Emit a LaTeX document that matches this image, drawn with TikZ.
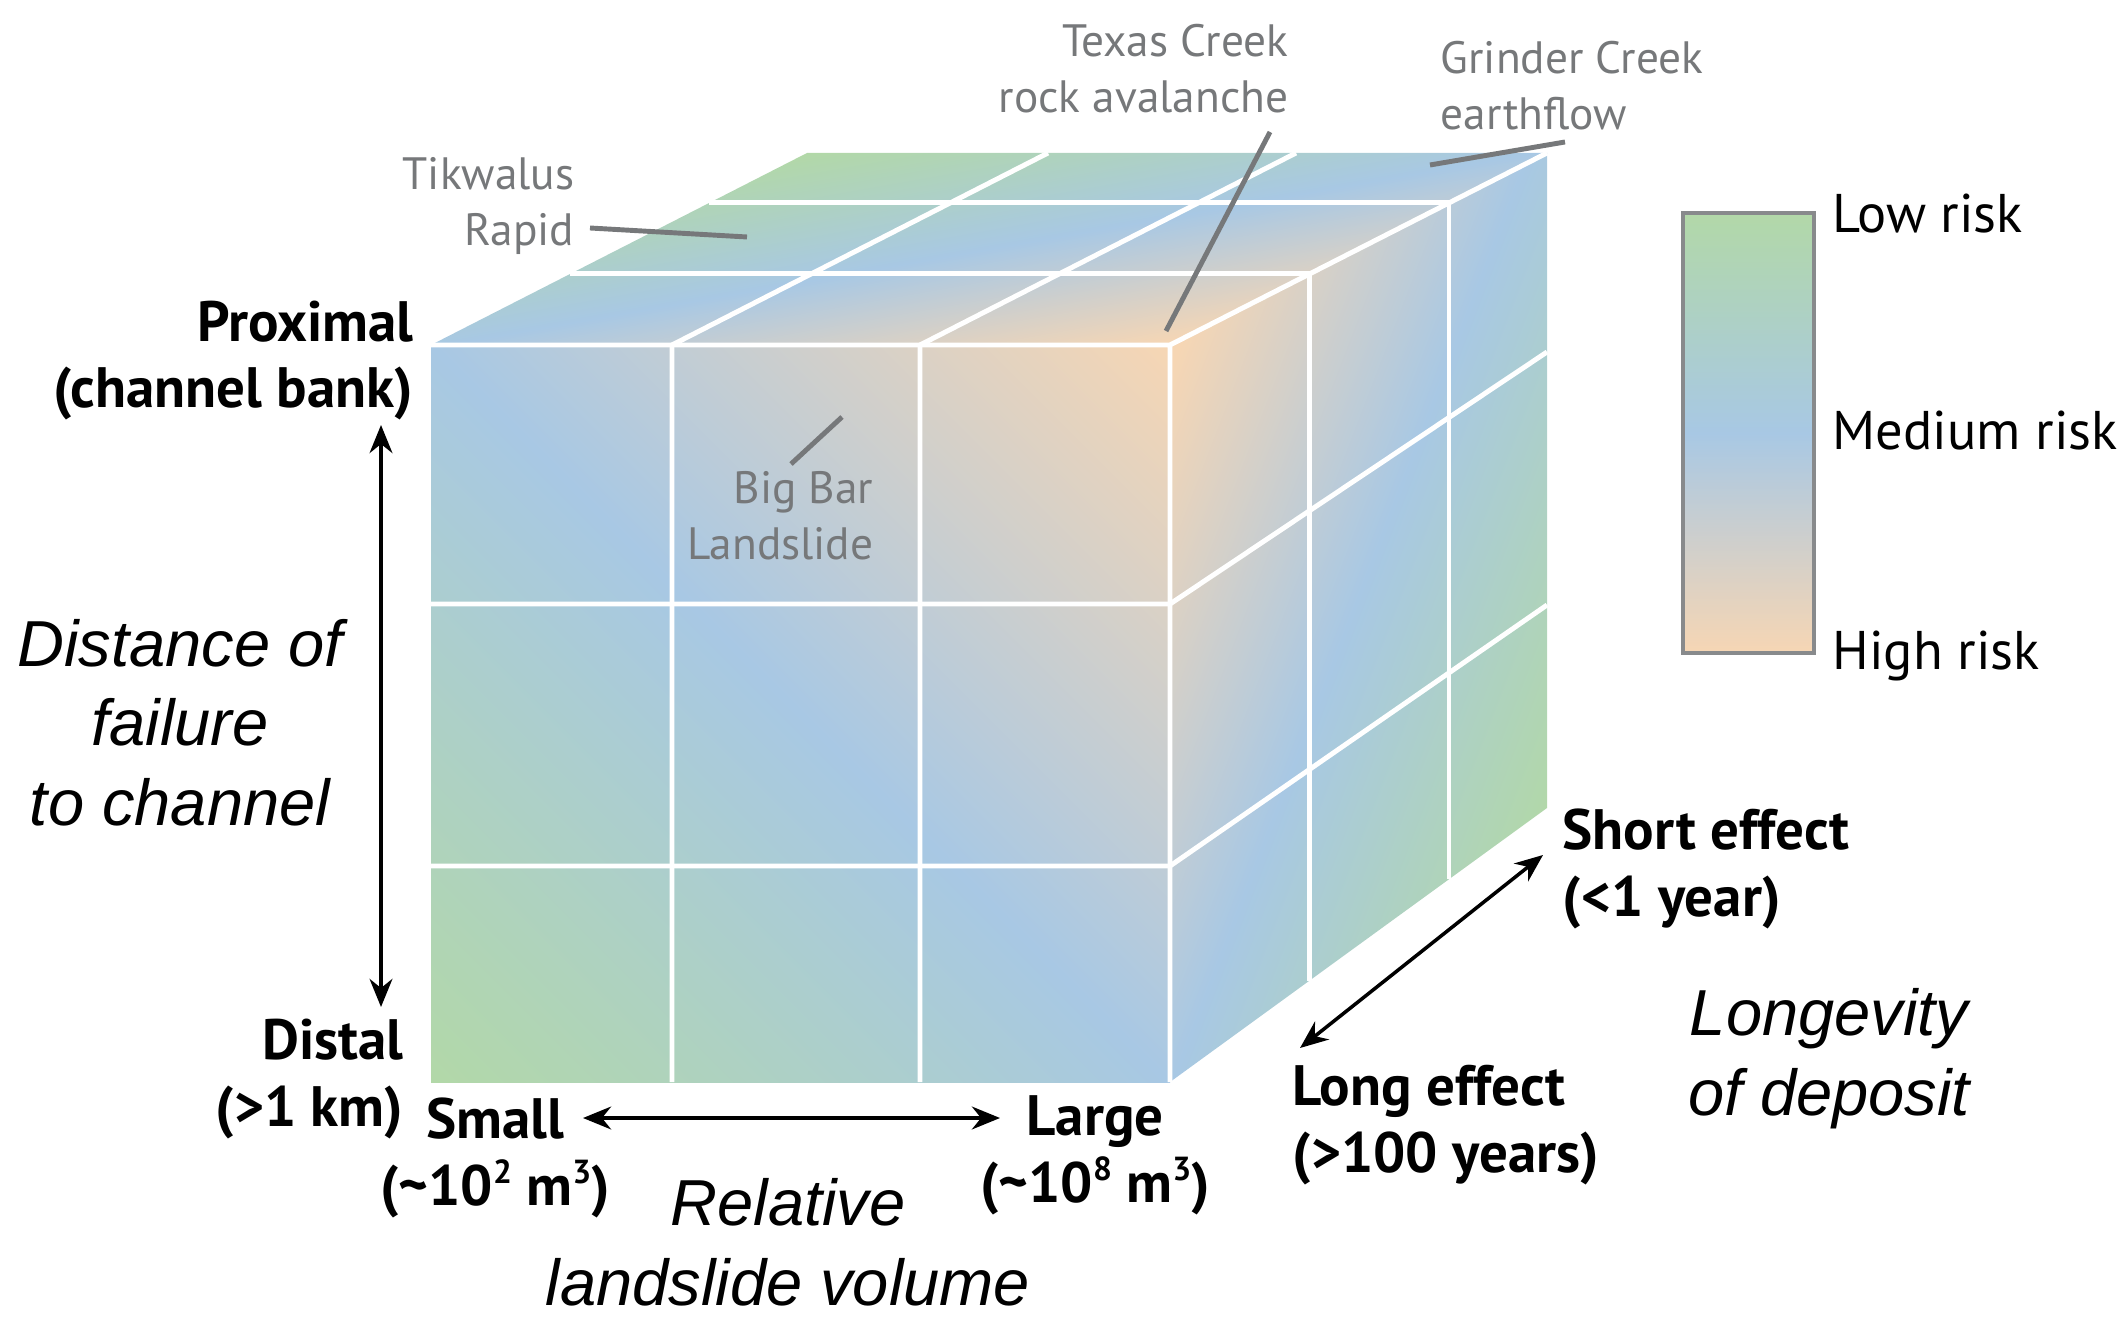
\documentclass[tikz,border=0pt]{standalone}
\usepackage{fontspec}
\setmainfont{PT Sans}
\newfontfamily\axisfont{Liberation Sans}
\usetikzlibrary{arrows.meta,calc}

\definecolor{riskLow}{RGB}{178,216,168}
\definecolor{riskMid}{RGB}{168,200,228}
\definecolor{riskHigh}{RGB}{246,214,180}
\definecolor{noteGray}{RGB}{118,120,122}
\definecolor{frameGray}{RGB}{136,138,140}

\def\riskramp#1#2#3{
  % 1: shading name
  % 2: where the ramp leaves low risk (bp)
  % 3: where the ramp reaches high risk (bp)
  \pgfdeclareverticalshading{#1}{100bp}{color(0bp)=(riskLow); color(#2bp)=(riskLow);
    color(50bp)=(riskMid); color(#3bp)=(riskHigh); color(100bp)=(riskHigh)}
}
\riskramp{frontramp}{25}{75}
\riskramp{sideramp}{36.8}{63.2}
\riskramp{topramp}{44.4}{55.6}

\def\riskface#1#2#3#4#5{
  % 1: outline of the face
  % 2: centre of the shading square
  % 3: side of the shading square
  % 4: shading name
  % 5: shading angle (towards high risk)
  \begin{scope}
    \clip #1;
    \shade[shading=#4, shading angle=#5] (#2) ++(-#3/2,-#3/2) rectangle ++(#3,#3);
  \end{scope}
}

% small raised exponent
\def\volexp#1{\raisebox{0.75ex}{\fontsize{9.5}{10}\selectfont #1}}

\tikzset{
  cellline/.style={white, line width=1.4pt},
  leader/.style={noteGray, line width=1.4pt},
  spanarrow/.style={line width=1pt, {Stealth[length=8pt,width=6.5pt]}-{Stealth[length=8pt,width=6.5pt]}},
  note/.style={text=noteGray, inner sep=0pt, font=\fontsize{12.9}{16.2}\selectfont},
  endlabel/.style={inner sep=0pt, font=\bfseries\fontsize{16.2}{19}\selectfont},
  axistitle/.style={inner sep=0pt, align=center, anchor=base, font=\axisfont\itshape\fontsize{18.5}{22.5}\selectfont},
  risklabel/.style={inner sep=0pt, anchor=base west, font=\fontsize{15.5}{18}\selectfont}
}

\begin{document}
\begin{tikzpicture}
  \useasboundingbox (0,0) rectangle (21.28,-13.17);

  % cube corners: F = front face, B = back
  \coordinate (F1) at (4.31,-3.45);
  \coordinate (F2) at (11.70,-3.45);
  \coordinate (F3) at (11.70,-10.82);
  \coordinate (F4) at (4.31,-10.82);
  \coordinate (B1) at (8.07,-1.53);
  \coordinate (B2) at (15.47,-1.53);
  \coordinate (B3) at (15.47,-8.08);

  \riskface{(F4) -- (F1) -- (F2) -- (F3) -- cycle}{8.005,-7.135}{10.45}{frontramp}{-45}
  \riskface{(F2) -- (F3) -- (B3) -- (B2) -- cycle}{13.585,-5.97}{9.8}{sideramp}{69}
  \riskface{(F1) -- (F2) -- (B2) -- (B1) -- cycle}{9.89,-2.49}{11.2}{topramp}{-170}

  % cell lines
  \draw[cellline] (F1) -- (F2) -- (F3) (F2) -- (B2);
  \foreach \x in {6.72,9.20}
    \draw[cellline] (\x,-10.82) -- (\x,-3.45) -- ++(3.76,1.92);
  \foreach \y/\yb in {-6.04/-3.52,-8.66/-6.05}
    \draw[cellline] (4.31,\y) -- (11.70,\y) -- (15.47,\yb);
  \foreach \t in {0.37,0.74}
    \draw[cellline] ($(F1)!\t!(B1)$) -- ($(F2)!\t!(B2)$) -- ($(F3)!\t!(B3)$);

  % named slides
  \node[note, align=right, anchor=base east] (texas) at (12.89,-1.13) {Texas Creek\\rock avalanche};
  \node[note, align=left, anchor=base west] (grinder) at (14.40,-1.30) {Grinder Creek\\earthflow};
  \node[note, align=right, anchor=base east] (tikwalus) at (5.75,-2.46) {Tikwalus\\Rapid};
  \node[note, align=right, anchor=base east] (bigbar) at (8.74,-5.60) {Big Bar\\Landslide};
  \coordinate (texasA) at (12.70,-1.32);  \coordinate (texasB) at (11.66,-3.31);
  \coordinate (grindA) at (14.30,-1.65);  \coordinate (grindB) at (15.65,-1.42);
  \coordinate (tikA) at (5.90,-2.28);     \coordinate (tikB) at (7.47,-2.37);
  \coordinate (bigA) at (7.91,-4.64);     \coordinate (bigB) at (8.42,-4.17);
  \draw[leader] (texasA) -- (texasB);
  \draw[leader] (grindA) -- (grindB);
  \draw[leader] (tikA) -- (tikB);
  \draw[leader] (bigA) -- (bigB);

  % distance axis
  \node[endlabel, align=right, anchor=base east] (proximal) at (4.14,-4.08) {Proximal\\(channel bank)};
  \node[endlabel, align=right, anchor=base east] (distal) at (4.04,-11.26) {Distal\\(>1 km)};
  \coordinate (distTop) at (3.81,-4.25);  \coordinate (distBot) at (3.81,-10.07);
  \draw[spanarrow] (distTop) -- (distBot);
  \node[axistitle] (distance) at (1.80,-8.25) {Distance of\\failure\\to channel};

  % volume axis
  \node[endlabel, align=center, anchor=base] (small) at (4.95,-12.05) {Small\\(\textasciitilde10\volexp{2} m\volexp{3})};
  \node[endlabel, align=center, anchor=base] (large) at (10.95,-12.02) {Large\\(\textasciitilde10\volexp{8} m\volexp{3})};
  \coordinate (volL) at (5.83,-11.18);  \coordinate (volR) at (10.00,-11.18);
  \draw[spanarrow] (volL) -- (volR);
  \node[axistitle] (volume) at (7.88,-13.05) {Relative\\landslide volume};

  % longevity axis
  \node[endlabel, align=left, anchor=base west] (short) at (15.62,-9.16) {Short effect\\(<1 year)};
  \node[endlabel, align=left, anchor=base west] (long) at (12.92,-11.72) {Long effect\\(>100 years)};
  \coordinate (lonA) at (13.00,-10.48);  \coordinate (lonB) at (15.43,-8.55);
  \draw[spanarrow] (lonA) -- (lonB);
  \node[axistitle] (longevity) at (18.29,-11.15) {Longevity\\of deposit};

  % legend
  \node[draw=frameGray, line width=1.2pt, minimum width=1.31cm, minimum height=4.40cm,
        top color=riskLow, bottom color=riskHigh, middle color=riskMid] (bar) at (17.485,-4.33) {};
  \node[risklabel] (low) at (18.32,-2.33) {Low risk};
  \node[risklabel] (medium) at (18.32,-4.50) {Medium risk};
  \node[risklabel] (high) at (18.32,-6.69) {High risk};
\end{tikzpicture}
\end{document}
